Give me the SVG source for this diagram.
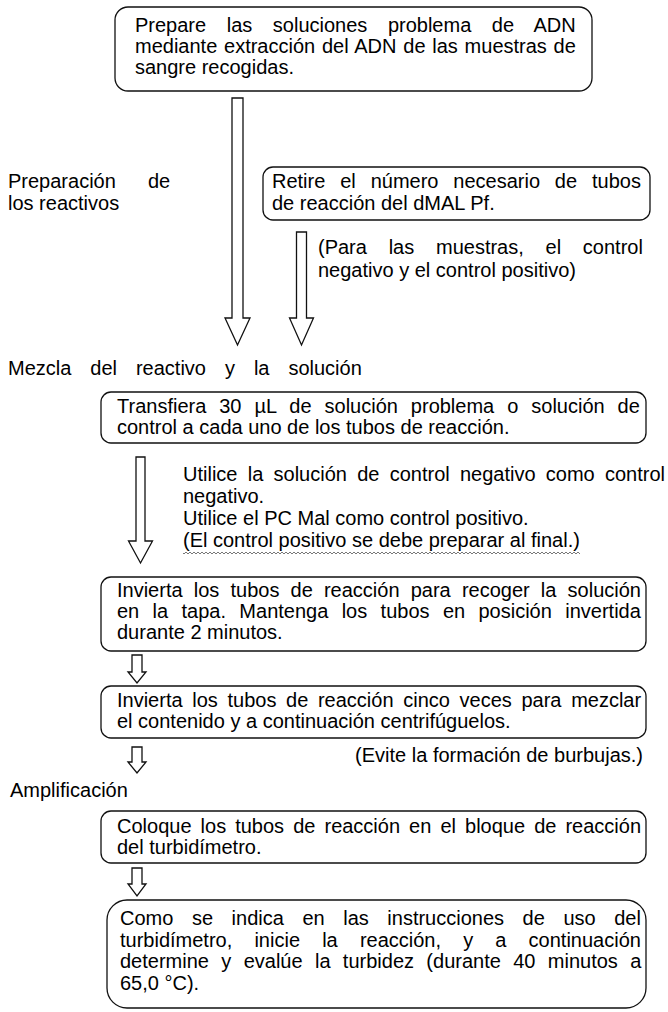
<svg xmlns="http://www.w3.org/2000/svg" width="668" height="1012" viewBox="0 0 668 1012">
<defs>
<style>
text{font-family:"Liberation Sans",Arial,sans-serif;font-size:20px;fill:#000}
.box{fill:#fff;stroke:#111;stroke-width:1.3}
.arr{fill:#fff;stroke:#111;stroke-width:1.3;stroke-linejoin:miter}
</style>
<pattern id="wave" x="0" y="551" width="4" height="4" patternUnits="userSpaceOnUse">
<path d="M0 3 L2 1 L4 3" fill="none" stroke="#555" stroke-width="0.8"/>
</pattern>
</defs>
<rect width="668" height="1012" fill="#fff"/>

<g id="connectors">
<polygon class="arr" points="232,98 243,98 243,318 250,318 237.5,345 225,318 232,318"/>
<polygon class="arr" points="296.5,232 306.5,232 306.5,318 313.5,318 301.5,345 289.5,318 296.5,318"/>
<polygon class="arr" points="136,457 145,457 145,541 152.5,541 140.5,563 128.5,541 136,541"/>
<polygon class="arr" points="132,655 142,655 142,672 146,672 137,683 128,672 132,672"/>
<polygon class="arr" points="132,747 142,747 142,762 146,762 137,773 128,762 132,762"/>
<polygon class="arr" points="132,868 142,868 142,884 146,884 137,896 128,884 132,884"/>
</g>

<g id="n1">
<rect class="box" x="115" y="7" width="477" height="84" rx="13"/>
<text x="135" y="32" word-spacing="15">Prepare las soluciones problema de ADN</text>
<text x="135" y="53" word-spacing="1.2">mediante extracción del ADN de las muestras de</text>
<text x="135" y="74">sangre recogidas.</text>
</g>

<g id="label1">
<text x="8" y="188">Preparación</text>
<text x="148" y="188">de</text>
<text x="8" y="210">los reactivos</text>
</g>

<g id="n2">
<rect class="box" x="263" y="167" width="387" height="53" rx="10"/>
<text x="272" y="188" word-spacing="9.3">Retire el número necesario de tubos</text>
<text x="272" y="210">de reacción del dMAL Pf.</text>
</g>

<g id="note1">
<text x="318" y="254" word-spacing="16.2">(Para las muestras, el control</text>
<text x="318" y="277">negativo y el control positivo)</text>
</g>

<g id="label2">
<text x="8" y="375" word-spacing="13.4">Mezcla del reactivo y la solución</text>
</g>

<g id="n3">
<rect class="box" x="101" y="392" width="545" height="51" rx="10"/>
<text x="117" y="413" word-spacing="7.4">Transfiera 30 µL de solución problema o solución de</text>
<text x="117" y="434">control a cada uno de los tubos de reacción.</text>
</g>

<g id="note2">
<text x="183" y="481" word-spacing="4.7">Utilice la solución de control negativo como control</text>
<text x="183" y="503">negativo.</text>
<text x="183" y="525">Utilice el PC Mal como control positivo.</text>
<text x="183" y="547">(El control positivo se debe preparar al final.)</text>
<rect x="183" y="551" width="397" height="4" fill="url(#wave)"/>
</g>

<g id="n4">
<rect class="box" x="101" y="577" width="545" height="74" rx="10"/>
<text x="117" y="597" word-spacing="5.6">Invierta los tubos de reacción para recoger la solución</text>
<text x="117" y="618" word-spacing="7.8">en la tapa. Mantenga los tubos en posición invertida</text>
<text x="117" y="639">durante 2 minutos.</text>
</g>

<g id="n5">
<rect class="box" x="101" y="686" width="545" height="52" rx="10"/>
<text x="117" y="707" word-spacing="4.1">Invierta los tubos de reacción cinco veces para mezclar</text>
<text x="117" y="728">el contenido y a continuación centrifúguelos.</text>
</g>

<g id="note3">
<text x="643" y="762" text-anchor="end">(Evite la formación de burbujas.)</text>
</g>

<g id="label3">
<text x="10" y="797">Amplificación</text>
</g>

<g id="n6">
<rect class="box" x="101" y="811" width="545" height="52" rx="10"/>
<text x="117" y="833" word-spacing="3.5">Coloque los tubos de reacción en el bloque de reacción</text>
<text x="117" y="854">del turbidímetro.</text>
</g>

<g id="n7">
<rect class="box" x="107" y="900" width="539" height="108" rx="20"/>
<text x="120" y="925" word-spacing="13">Como se indica en las instrucciones de uso del</text>
<text x="120" y="947" word-spacing="16.6">turbidímetro, inicie la reacción, y a continuación</text>
<text x="120" y="968" word-spacing="6.8">determine y evalúe la turbidez (durante 40 minutos a</text>
<text x="120" y="990">65,0 °C).</text>
</g>
</svg>
